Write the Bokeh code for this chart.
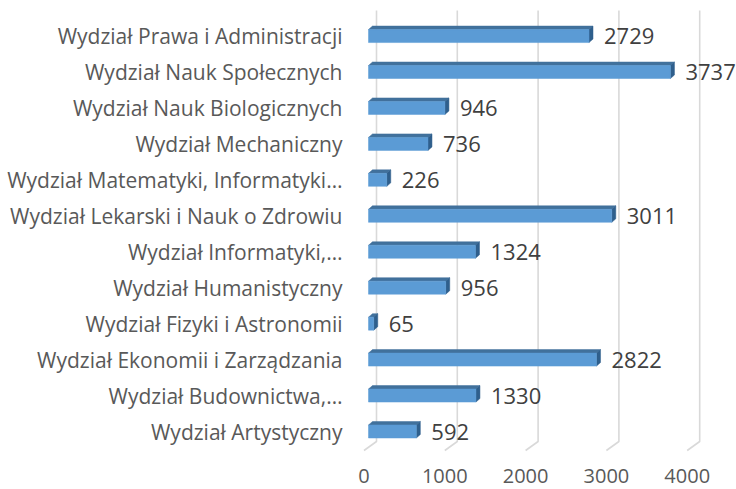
from bokeh.plotting import figure
from bokeh.models import Range1d, FixedTicker, ColumnDataSource
from bokeh.core.properties import value
from bokeh.embed import file_html
from bokeh.resources import INLINE

# ---- data (top to bottom as shown) ----
categories = [
    "Wydział Prawa i Administracji",
    "Wydział Nauk Społecznych",
    "Wydział Nauk Biologicznych",
    "Wydział Mechaniczny",
    "Wydział Matematyki, Informatyki…",
    "Wydział Lekarski i Nauk o Zdrowiu",
    "Wydział Informatyki,…",
    "Wydział Humanistyczny",
    "Wydział Fizyki i Astronomii",
    "Wydział Ekonomii i Zarządzania",
    "Wydział Budownictwa,…",
    "Wydział Artystyczny",
]
values = [2729, 3737, 946, 736, 226, 3011, 1324, 956, 65, 2822, 1330, 592]
x_ticks = [0, 1000, 2000, 3000, 4000]
x_tick_labels = ["0", "1000", "2000", "3000", "4000"]

# ---- geometry (pixel scales of the frame) ----
W, H = 736, 489
BL, BR, BT, BB = 357, 0, 0, 0
frame_w = W - BL - BR
frame_h = H - BT - BB
PX_X = 0.0808          # px per data unit (x)
PX_Y = 35.95           # px per row (y)
x0 = -6.5 / PX_X
x1 = x0 + frame_w / PX_X
y0 = -58.0 / PX_Y
y1 = y0 + frame_h / PX_Y

def dx(px):
    return px / PX_X

def dy(px):
    return px / PX_Y

n = len(categories)
rows = [n - 1 - i for i in range(n)]   # top category at highest row

p = figure(width=W, height=H, output_backend="svg", toolbar_location=None,
           x_range=Range1d(x0, x1), y_range=Range1d(y0, y1),
           min_border_left=BL, min_border_right=BR, min_border_top=BT,
           min_border_bottom=BB)
p.outline_line_color = None
p.xgrid.visible = False
p.ygrid.visible = False
p.xaxis.visible = False
p.background_fill_color = "white"

# ---- gridlines (back wall + floor slant) ----
y_front = y0 + dy(39)
y_back = y0 + dy(48)
y_top = y1 - dy(10)
gx, gy = [], []
for t in x_ticks:
    gx.append([t, t + dx(12.5), t + dx(12.5)])
    gy.append([y_front, y_back, y_top])
p.multi_line(gx, gy, line_color="#d9d9d9", line_width=1.6)

# ---- value-axis tick labels (placed through the x scale) ----
tick_src = ColumnDataSource(dict(x=x_ticks, y=[y0 + dy(14)] * len(x_ticks),
                                 t=x_tick_labels))
p.text(x="x", y="y", text="t", source=tick_src, text_font=value("Open Sans"),
       text_font_size="20px", text_color="#595959", text_align="center",
       text_baseline="middle")

# ---- 3D bars ----
half = dy(6.5)
off_x, off_y = dx(4), dy(3.5)
lefts = [dx(4.5)] * n
rights = [v + dx(4.5) for v in values]
bottoms = [r - half for r in rows]
tops = [r + half for r in rows]

top_xs, top_ys, side_xs, side_ys = [], [], [], []
for L, R, b, t in zip(lefts, rights, bottoms, tops):
    top_xs.append([L, R, R + off_x, L + off_x])
    top_ys.append([t, t, t + off_y, t + off_y])
    side_xs.append([R, R + off_x, R + off_x, R])
    side_ys.append([b, b + off_y, t + off_y, t])

p.patches(top_xs, top_ys, fill_color="#41719c", line_color="#41719c", line_width=0.5)
p.patches(side_xs, side_ys, fill_color="#2f5f8c", line_color="#2f5f8c", line_width=0.5)
p.quad(left=lefts, right=rights, bottom=bottoms, top=tops,
       fill_color="#5b9bd5", line_color="#5b9bd5", line_width=0.5)

# ---- value labels ----
src = ColumnDataSource(dict(x=[r + dx(15) for r in rights], y=rows,
                            t=[str(v) for v in values]))
p.text(x="x", y="y", text="t", source=src, text_font=value("Open Sans"),
       text_font_size="22px", text_color="#404040", text_align="left",
       text_baseline="middle")

# ---- category axis ----
p.yaxis.ticker = FixedTicker(ticks=rows)
p.yaxis.major_label_overrides = {r: c for r, c in zip(rows, categories)}
p.yaxis.axis_line_color = None
p.yaxis.major_tick_line_color = None
p.yaxis.minor_tick_line_color = None
p.yaxis.major_tick_out = 0
p.yaxis.major_tick_in = 0
p.yaxis.major_label_standoff = 15
p.yaxis.major_label_text_font = "Open Sans"
p.yaxis.major_label_text_font_size = "21px"
p.yaxis.major_label_text_color = "#595959"

open("out.html", "w").write(file_html(p, INLINE))
